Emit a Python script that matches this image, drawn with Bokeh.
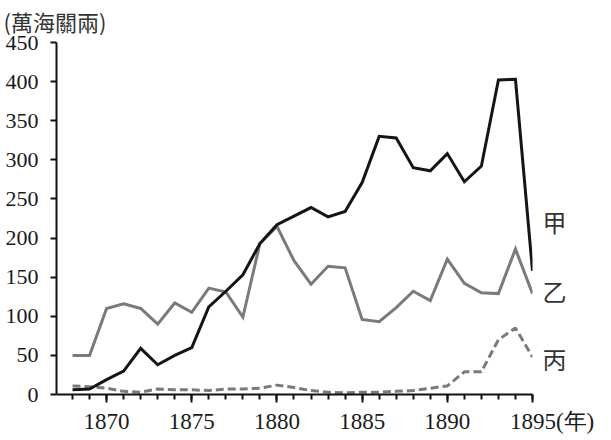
from bokeh.plotting import figure
from bokeh.models import FixedTicker, LinearAxis, Range1d
from bokeh.embed import file_html
from bokeh.resources import INLINE

years = list(range(1868, 1896))
jia = [6, 7, 19, 30, 59, 38, 50, 60, 112, 132, 153, 193, 217, 228, 239, 227, 234, 271,
       330, 328, 290, 286, 308, 272, 292, 402, 403, 158]
yi = [50, 50, 110, 116, 110, 90, 117, 105, 136, 131, 99, 193, 215, 171, 141, 164, 162, 96,
      93, 111, 132, 120, 173, 142, 130, 129, 186, 129]
bing = [11, 10, 8, 4, 3, 7, 6, 6, 5, 7, 7, 8, 12, 9, 5, 3, 2, 3, 3, 4, 5, 8, 11, 29, 29,
        70, 85, 48]
series_names = ["甲", "乙", "丙"]
x_major = [1870, 1875, 1880, 1885, 1890, 1895]
y_major = [0, 50, 100, 150, 200, 250, 300, 350, 400, 450]
y_title = "(萬海關兩)"
x_title = "(年)"

p = figure(width=611, height=440, output_backend="svg", toolbar_location=None,
           x_range=Range1d(1867.06, 1895), y_range=Range1d(0, 450),
           min_border_left=56, min_border_right=79, min_border_top=42, min_border_bottom=46)
p.outline_line_color = None
p.xgrid.visible = False
p.ygrid.visible = False
p.background_fill_color = "white"
p.border_fill_color = "white"

serif = "Liberation Serif"
cjk = "Noto Sans CJK TC"

for ax, size in ((p.xaxis[0], "23px"), (p.yaxis[0], "22px")):
    ax.axis_line_color = "#111111"
    ax.axis_line_width = 2
    ax.major_tick_line_color = "#111111"
    ax.major_tick_line_width = 2
    ax.minor_tick_line_color = "#111111"
    ax.minor_tick_line_width = 2
    ax.major_tick_in = 0
    ax.minor_tick_in = 0
    ax.major_label_text_font = serif
    ax.major_label_text_font_size = size
    ax.major_label_text_color = "#1a1a1a"

p.xaxis.ticker = FixedTicker(ticks=x_major, minor_ticks=years)
p.xaxis.major_tick_out = 8
p.xaxis.minor_tick_out = 5
p.xaxis.major_label_standoff = 6
p.xaxis.major_label_overrides = {x_major[-1]: "\u3000\u2002\u2009" + str(x_major[-1]) + x_title}

p.yaxis.ticker = FixedTicker(ticks=y_major, minor_ticks=[])
p.yaxis.major_tick_out = 6
p.yaxis.minor_tick_out = 0
p.yaxis.major_label_standoff = 12

p.line(years, yi, line_color="#7a7a7a", line_width=3, line_join="miter")
p.line(years, bing, line_color="#7a7a7a", line_width=3, line_dash="8 4")
p.line(years, jia, line_color="#151515", line_width=3, line_join="miter")

label_y = [221, 133, 46]
name_axis = LinearAxis(ticker=FixedTicker(ticks=label_y, minor_ticks=[]),
                       major_label_overrides={v: n for v, n in zip(label_y, series_names)})
name_axis.axis_line_color = None
name_axis.major_tick_line_color = None
name_axis.minor_tick_line_color = None
name_axis.major_tick_out = 0
name_axis.major_label_standoff = 10
name_axis.major_label_text_font = cjk
name_axis.major_label_text_font_size = "24px"
name_axis.major_label_text_color = "#333333"
p.add_layout(name_axis, "right")

p.title.text = y_title
p.title.align = "left"
p.title.vertical_align = "top"
p.title.offset = -53
p.title.text_font = cjk
p.title.text_font_size = "22px"
p.title.text_font_style = "normal"
p.title.text_color = "#333333"
p.title.standoff = 8

open("out.html", "w").write(file_html(p, INLINE))
